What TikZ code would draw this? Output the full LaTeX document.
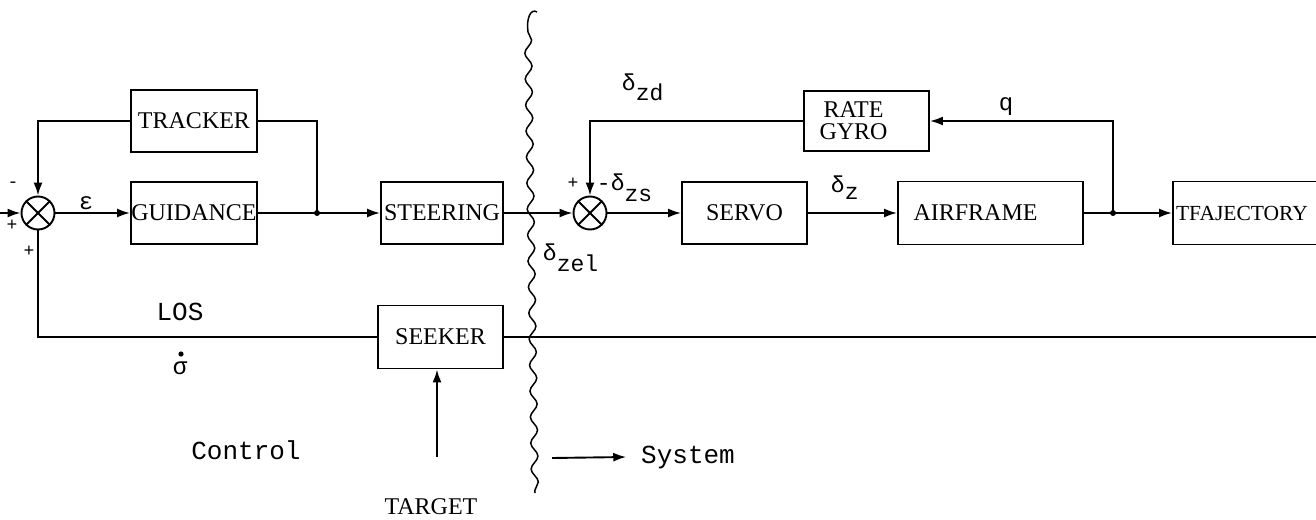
\documentclass[tikz,border=0pt]{standalone}
\usepackage{fontspec}
\setmainfont{Liberation Serif}
\newfontfamily\mono{Liberation Mono}
\usetikzlibrary{arrows.meta,decorations.pathmorphing}
\begin{document}
\begin{tikzpicture}[x=1pt,y=-1pt,line width=1.9pt,
  blk/.style={draw,rectangle,inner sep=0pt,font=\fontsize{24}{22}\selectfont},
  sumj/.style={draw,circle,minimum size=33pt,inner sep=0pt},
  arr/.style={-{Latex[length=13pt,width=9pt]}},
  lbl/.style={inner sep=0pt,font=\fontsize{26}{26}\mono},
  sub/.style={inner sep=0pt,anchor=base west,font=\fontsize{23}{23}\mono},
  sgn/.style={inner sep=0pt,font=\fontsize{18}{18}\mono},
  dot/.style={fill,circle,inner sep=0pt,minimum size=6pt}]
\useasboundingbox (0,0) rectangle (1316,519);
\clip (0,0) rectangle (1316,519);
\fill[white] (0,0) rectangle (1316,519);

% blocks
\node[blk,minimum width=126pt,minimum height=62pt] (tracker) at (194,121) {TRACKER};
\node[blk,minimum width=126pt,minimum height=62pt] (guidance) at (194,213) {GUIDANCE};
\node[blk,minimum width=122pt,minimum height=62pt] (steering) at (442,213) {STEERING};
\node[blk,minimum width=125pt,minimum height=63pt] (seeker) at (440.5,337) {SEEKER};
\node[blk,minimum width=125pt,minimum height=62pt] (servo) at (744.5,213) {SERVO};
\node[blk,minimum width=125pt,minimum height=60pt,align=center] (rategyro) at (866.5,121) {\hspace*{-26pt}RATE\\\hspace*{-26pt}GYRO};
\node[blk,minimum width=185pt,minimum height=63pt] (airframe) at (990.5,213) {\hspace*{-30pt}AIRFRAME};
\node[blk,minimum width=172pt,minimum height=63pt,text width=166pt,align=left,inner xsep=3pt,font=\fontsize{21.5}{22}\selectfont] (trajectory) at (1259,213) {TFAJECTORY};

% summing junctions
\node[sumj] (c1) at (38,213) {};
\draw (c1.45) -- (c1.225) (c1.135) -- (c1.315);
\node[sumj] (c2) at (590,213) {};
\draw (c2.45) -- (c2.225) (c2.135) -- (c2.315);

% coordinates
\coordinate (in) at (0,213);
\node[dot] (j1) at (317,213) {};
\node[dot] (j2) at (1113,213) {};
\coordinate (redge) at (1316,337);
\coordinate (target) at (437,457);
\coordinate (s0) at (552,458);

% connectors
\draw[arr] (in) -- (c1.west);
\draw[arr] (tracker.west) -| (c1.north);
\draw (tracker.east) -| (j1.center);
\draw[arr] (c1.east) -- (guidance.west);
\draw (guidance.east) -- (j1.center);
\draw[arr] (j1.center) -- (steering.west);
\draw (c1.south) |- (seeker.west);
\draw (seeker.east) -- (redge);
\draw[arr] (steering.east) -- (c2.west);
\draw[arr] (c2.east) -- (servo.west);
\draw[arr] (servo.east) -- (airframe.west);
\draw (airframe.east) -- (j2.center);
\draw[arr] (j2.center) -- (trajectory.west);
\draw[arr] (j2.center) |- (rategyro.east);
\draw[arr] (rategyro.west) -| (c2.north);
\draw[arr] (target) -- (target |- seeker.south);

% divider (wavy line)
\draw[line width=1.5pt] (537,12) .. controls (531,8) and (526,18) .. (528,32);
\draw[line width=1.5pt,decorate,decoration={snake,segment length=26pt,amplitude=3.5pt}] (528,32) -- (535,493);

% labels
\node[inner sep=0pt,font=\fontsize{24}{24}\mono] (eps) at (86,203) {ε};
\node[lbl] (los) at (180,312) {LOS};
\node[inner sep=0pt,font=\fontsize{24}{24}\mono] (sig) at (180,368) {σ};
\fill (181,354) circle (2.6pt);
\node[lbl] (control) at (246,450) {Control};
\node[inner sep=0pt,font=\fontsize{24}{24}\selectfont] (targetlbl) at (431,507) {TARGET};
\node[lbl] (system) at (688,457) {System};
\draw[arr] (s0) -- ([xshift=-14pt]system.west);

\node[sub] (dzd) at (621,90) {δ\raisebox{-10pt}{zd}};
\node[sub] (dzs) at (596,190) {-δ\raisebox{-11pt}{zs}};
\node[sub] (dzel) at (542,260) {δ\raisebox{-11pt}{zel}};
\node[sub] (dz) at (830,192) {δ\raisebox{-7pt}{z}};
\node[inner sep=0pt,anchor=base,font=\fontsize{24}{24}\mono] (q) at (1006,110) {q};

\node[sgn] (m1) at (13,185) {-};
\node[sgn] (p1) at (12,225) {+};
\node[sgn] (p2) at (29,251) {+};
\node[sgn] (p3) at (573,183) {+};
\end{tikzpicture}
\end{document}
